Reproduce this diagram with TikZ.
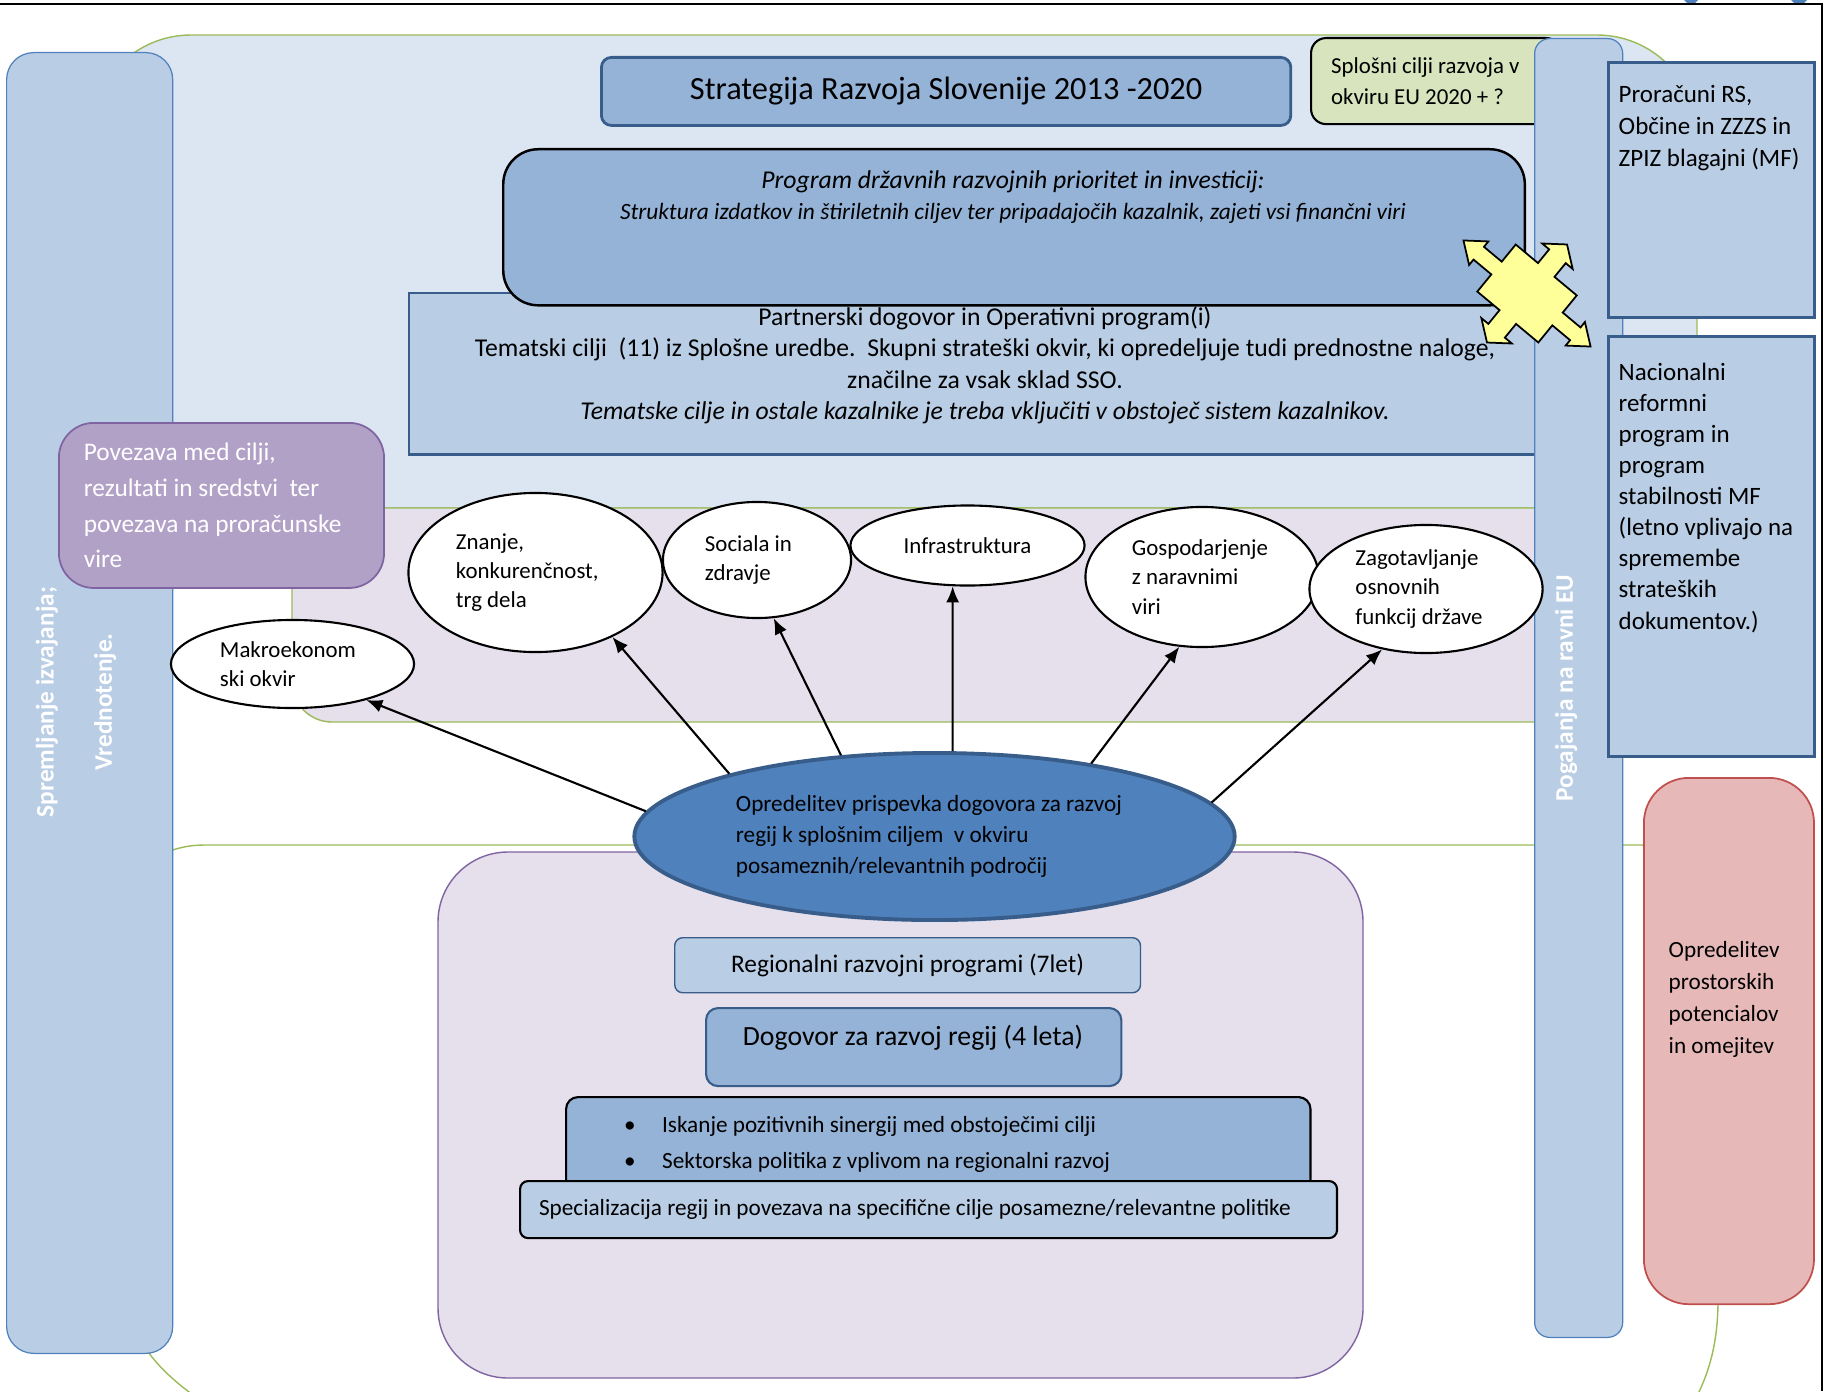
\documentclass[tikz,border=0pt]{standalone}
\usepackage{fontspec}
\setmainfont{Carlito}
\usetikzlibrary{shapes.geometric,arrows.meta}
\definecolor{skyfill}{HTML}{DCE6F2}
\definecolor{bandfill}{HTML}{E5E0EC}
\definecolor{leafline}{HTML}{9BBB59}
\definecolor{paleblue}{HTML}{B9CDE5}
\definecolor{midblue}{HTML}{95B3D7}
\definecolor{deepblue}{HTML}{4F81BD}
\definecolor{navyline}{HTML}{385D8A}
\definecolor{plum}{HTML}{B2A1C7}
\definecolor{plumline}{HTML}{8064A2}
\definecolor{sage}{HTML}{D7E4BD}
\definecolor{rose}{HTML}{E6B9B8}
\definecolor{roseline}{HTML}{C0504D}
\definecolor{lemon}{HTML}{FFFF99}
\tikzset{
    box/.style={draw, anchor=north west, inner sep=0pt, line width=0.6pt},
    column/.style={box, fill=paleblue, draw=deepblue, line width=0.35pt},
    coltext/.style={text=white, rotate=90, align=center, inner sep=0pt,
        font=\fontsize{7.2}{16.5}\selectfont\bfseries},
    sidetext/.style={anchor=north west, inner sep=0pt, align=left,
        font=\fontsize{7.1}{9}\selectfont},
    goal/.style={ellipse, draw, fill=white, line width=0.6pt, inner sep=0pt,
        align=flush left, font=\fontsize{6.5}{8.3}\selectfont},
    link/.style={-{Latex[length=1.6mm,width=1.3mm]}, line width=0.6pt},
}

\begin{document}
\begin{tikzpicture}[x=0.01cm,y=-0.01cm]
\useasboundingbox (0,0) rectangle (1825,1391);
\clip (0,0) rectangle (1825,1391);

\filldraw[fill=skyfill, draw=leafline, rounded corners=1cm] (91,35) rectangle (1697,508);
\filldraw[fill=bandfill, draw=leafline, rounded corners=0.4cm] (292,508) rectangle (1600,722);
\filldraw[fill=white, draw=leafline] (205,845) -- (1640,845)
    .. controls (1690,845) and (1718,870) .. (1718,925) -- (1718,1300)
    .. controls (1718,1345) and (1708,1375) .. (1695,1400) -- (200,1400)
    .. controls (150,1365) and (125,1330) .. (125,1280) -- (125,925)
    .. controls (125,870) and (160,845) .. (205,845);
\filldraw[fill=bandfill, draw=plumline, rounded corners=0.7cm] (438,852) rectangle (1363,1378);

\fill[deepblue] (1684,0) -- (1698,0) -- (1695,3) -- (1687,3) -- cycle;
\fill[deepblue] (1791,0) -- (1807,0) -- (1804,3) -- (1794,3) -- cycle;
\draw[line width=0.8pt] (0,4) -- (1822,4) -- (1822,1391);

\node[column, rounded corners=0.27cm, minimum width=1.66cm, minimum height=13cm] (monitor) at (6,52) {};
\node[coltext] (monitorlbl) at (76,702) {Spremljanje izvajanja;\\Vrednotenje.};

\node[box, fill=plum, draw=plumline, line width=0.5pt, rounded corners=0.35cm,
    minimum width=3.25cm, minimum height=1.65cm, text width=2.75cm, inner xsep=0.25cm,
    align=flush left, text=white, font=\fontsize{7.2}{10.2}\selectfont] (budgetlink) at (58,422)
    {Povezava med cilji,\\rezultati in sredstvi\ \ ter\\povezava na proračunske\\vire};

\node[box, fill=midblue, draw=navyline, line width=0.8pt, rounded corners=0.1cm,
    minimum width=6.89cm, minimum height=0.68cm, font=\fontsize{9.2}{11}\selectfont] (strategy) at (600,56)
    {Strategija Razvoja Slovenije 2013 -2020};
\node[box, fill=sage, draw=black, rounded corners=0.15cm, minimum height=0.86cm,
    text width=2.1cm, inner xsep=0.2cm, align=flush left, font=\fontsize{6.5}{8.8}\selectfont] (eugoals) at (1310,37)
    {Splošni cilji razvoja v\\okviru EU 2020 + ?};

\node[box, fill=paleblue, draw=navyline, line width=0.7pt, minimum width=11.54cm, minimum height=1.61cm] (partner) at (408,292) {};
\node[anchor=north, inner sep=0pt, align=center, font=\fontsize{7.3}{8.95}\selectfont] (partnerlbl) at (985,306)
    {Partnerski dogovor in Operativni program(i)\\
     Tematski cilji\ \ (11) iz Splošne uredbe.\ \ Skupni strateški okvir, ki opredeljuje tudi prednostne naloge,\\
     značilne za vsak sklad SSO.\\
     \textit{Tematske cilje in ostale kazalnike je treba vključiti v obstoječ sistem kazalnikov.}};
\node[box, fill=midblue, draw=black, line width=0.7pt, rounded corners=0.35cm,
    minimum width=10.21cm, minimum height=1.56cm] (program) at (502,148) {};
\node[anchor=north, inner sep=0pt, align=center, font=\fontsize{7.3}{8.9}\selectfont\itshape] (programlbl) at (1013,170)
    {Program državnih razvojnih prioritet in investicij:\\
     {\fontsize{6.65}{8.9}\selectfont Struktura izdatkov in štiriletnih ciljev ter pripadajočih kazalnik, zajeti vsi finančni viri}};

\node[column, rounded corners=0.15cm, minimum width=0.88cm, minimum height=12.98cm] (eutalks) at (1534,38) {};
\node[coltext] (eutalkslbl) at (1566,688) {Pogajanja na ravni EU};

\node[box, fill=paleblue, draw=navyline, line width=0.8pt, minimum width=2.06cm, minimum height=2.55cm] (budget) at (1607,61) {};
\node[sidetext] (budgetlbl) at (1618,85) {Proračuni RS,\\Občine in ZZZS in\\ZPIZ blagajni (MF)};
\node[box, fill=paleblue, draw=navyline, line width=0.8pt, minimum width=2.06cm, minimum height=4.2cm] (reform) at (1607,335) {};
\node[sidetext, font=\fontsize{7.1}{8.85}\selectfont] (reformlbl) at (1618,362) {Nacionalni\\reformni\\program in\\program\\stabilnosti MF\\(letno vplivajo na\\spremembe\\strateških\\dokumentov.)};
\node[box, fill=rose, draw=roseline, line width=0.5pt, rounded corners=0.45cm,
    minimum width=1.70cm, minimum height=5.26cm] (space) at (1643,777) {};
\node[sidetext, font=\fontsize{6.6}{9.1}\selectfont] (spacelbl) at (1668,941) {Opredelitev\\prostorskih\\potencialov\\in omejitev};

\begin{scope}[shift={(1527,293.5)}, x={(0.635cm,-0.53cm)}, y={(0.40cm,0.49cm)}]
\filldraw[fill=lemon, draw=black, line width=0.5pt]
    (0.48,0.48) -- (0.48,0.13) -- (0.76,0.13) -- (0.76,0.24) -- (1,0) -- (0.76,-0.24) -- (0.76,-0.13) -- (0.48,-0.13)
    -- (0.48,-0.48) -- (0.13,-0.48) -- (0.13,-0.76) -- (0.24,-0.76) -- (0,-1) -- (-0.24,-0.76) -- (-0.13,-0.76) -- (-0.13,-0.48)
    -- (-0.48,-0.48) -- (-0.48,-0.13) -- (-0.76,-0.13) -- (-0.76,-0.24) -- (-1,0) -- (-0.76,0.24) -- (-0.76,0.13) -- (-0.48,0.13)
    -- (-0.48,0.48) -- (-0.13,0.48) -- (-0.13,0.76) -- (-0.24,0.76) -- (0,1) -- (0.24,0.76) -- (0.13,0.76) -- (0.13,0.48) -- cycle;
\end{scope}

\node[goal, minimum width=2.43cm, minimum height=0.88cm, text width=1.45cm] (macro) at (292.5,664) {Makroekonom\\ski okvir};
\node[goal, minimum width=2.54cm, minimum height=1.59cm, text width=1.59cm] (knowledge) at (535.5,572.5) {Znanje,\\konkurenčnost,\\trg dela};
\node[goal, minimum width=1.88cm, minimum height=1.16cm, text width=1.04cm] (social) at (757,560) {Sociala in\\zdravje};
\node[goal, minimum width=2.34cm, minimum height=0.80cm] (infra) at (967.5,545.5) {Infrastruktura};
\node[goal, minimum width=2.33cm, minimum height=1.40cm, text width=1.40cm] (nature) at (1202,577) {Gospodarjenje\\z naravnimi\\viri};
\node[goal, minimum width=2.33cm, minimum height=1.28cm, text width=1.41cm] (state) at (1426,589) {Zagotavljanje\\osnovnih\\funkcij države};

\node[ellipse, draw=navyline, fill=deepblue, line width=1.1pt, minimum width=6cm, minimum height=1.67cm,
    inner sep=0pt, text width=3.97cm, align=flush left, font=\fontsize{6.6}{8.8}\selectfont] (contrib) at (934.5,836.5)
    {Opredelitev prispevka dogovora za razvoj\\regij k splošnim ciljem\ \ v okviru\\posameznih/relevantnih področij};

\draw[link] (contrib.175) -- (macro.334);
\draw[link] (contrib.163) -- (knowledge.320);
\draw[link] (contrib.139) -- (social.286);
\draw[link] (contrib.78) -- (infra.250);
\draw[link] (contrib.25) -- (nature.252);
\draw[link] (contrib.7) -- (state.234);

\node[box, fill=paleblue, draw=navyline, line width=0.4pt, rounded corners=0.08cm,
    minimum width=4.655cm, minimum height=0.55cm, font=\fontsize{7.2}{9}\selectfont] (regional) at (674,937)
    {Regionalni razvojni programi (7let)};
\node[box, fill=midblue, draw=navyline, line width=0.6pt, rounded corners=0.12cm,
    minimum width=4.15cm, minimum height=0.78cm] (deal) at (705,1007) {};
\node[inner sep=0pt, font=\fontsize{7.9}{10}\selectfont] (deallbl) at (913,1038) {Dogovor za razvoj regij (4 leta)};
\node[box, fill=midblue, draw=black, line width=0.6pt, rounded corners=0.12cm,
    minimum height=0.94cm, text width=6.28cm, inner xsep=0.58cm, align=flush left,
    font=\fontsize{6.6}{10.2}\selectfont] (synergy) at (565,1096)
    {\makebox[0.38cm][l]{\textbullet}Iskanje pozitivnih sinergij med obstoječimi cilji\\
     \makebox[0.38cm][l]{\textbullet}Sektorska politika z vplivom na regionalni razvoj};
\node[box, fill=paleblue, draw=black, line width=0.6pt, rounded corners=0.08cm,
    minimum height=0.57cm, text width=7.785cm, inner xsep=0.19cm, align=flush left,
    font=\fontsize{6.6}{8.5}\selectfont] (special) at (519,1180)
    {Specializacija regij in povezava na specifične cilje posamezne/relevantne politike};
\end{tikzpicture}
\end{document}
